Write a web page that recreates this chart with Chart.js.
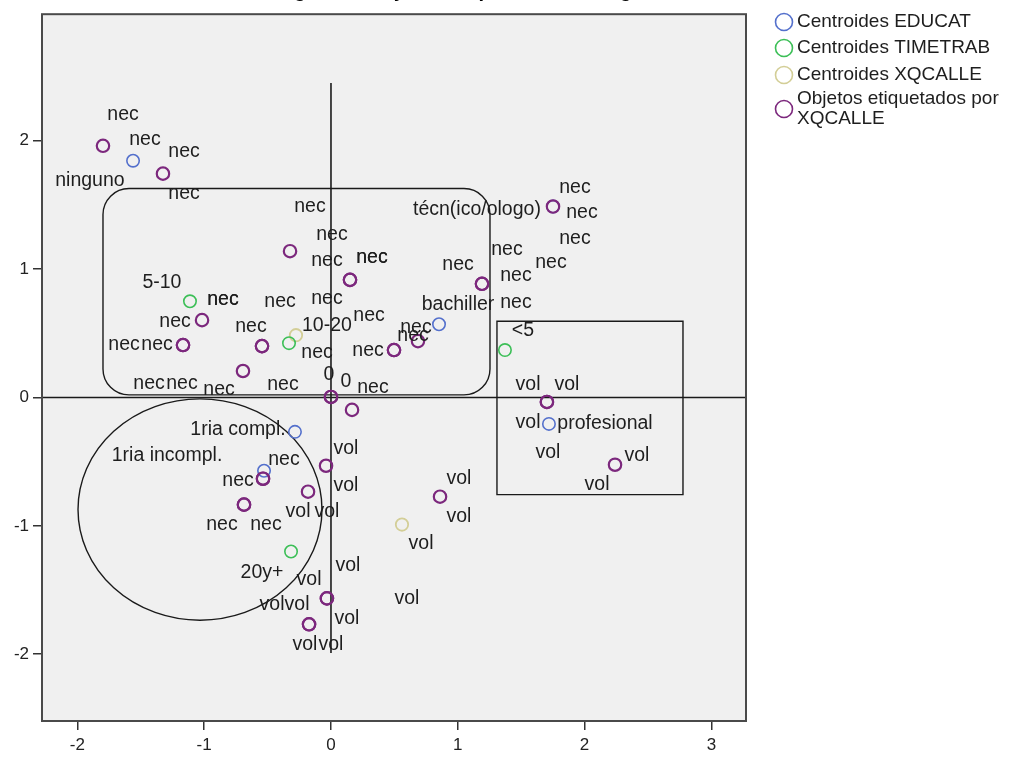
<!DOCTYPE html>
<html>
<head>
<meta charset="utf-8">
<script src="https://cdn.jsdelivr.net/npm/chart.js@4.4.1/dist/chart.umd.min.js"></script>
<style>
  html, body { margin: 0; padding: 0; background: #ffffff; }
  #wrap { width: 1014px; height: 761px; position: relative; }
  canvas { display: block; }
</style>
</head>
<body>
<div id="wrap"><canvas id="c" width="1014" height="761"></canvas></div>
<script>
// ---------- data ----------
const xTicks = [-2, -1, 0, 1, 2, 3];
const yTicks = [-2, -1, 0, 1, 2];
const xRange = [-2.279, 3.273];
const yRange = [-2.52, 2.985];

const titleText = 'Diagrama conjunto de puntos de categoría';

const legendLabels = ['Centroides EDUCAT', 'Centroides TIMETRAB', 'Centroides XQCALLE', 'Objetos etiquetados por XQCALLE'];

// Centroides EDUCAT
const educatCats = ['ninguno', 'técn(ico/ologo)', 'bachiller', 'profesional', '1ria compl.', '1ria incompl.'];
const educatX = [-1.561, 1.751, 0.852, 1.719, -0.284, -0.528];
const educatY = [1.844, 1.487, 0.570, -0.206, -0.268, -0.571];

// Centroides TIMETRAB
const timetrabCats = ['5-10', '10-20', '<5', '20y+'];
const timetrabX = [-1.112, -0.331, 1.372, -0.315];
const timetrabY = [0.749, 0.423, 0.369, -1.200];

// Centroides XQCALLE
const xqcalleCats = ['nec', 'vol'];
const xqcalleX = [-0.276, 0.560];
const xqcalleY = [0.485, -0.990];

// Objetos etiquetados por XQCALLE (repeated entries = coincident objects)
const objX = [-1.798, -1.325, -0.323, 0.150, 0.150, 1.191, 1.191, 1.751, -1.017, -1.167, -1.167,
              -0.544, -0.544, 0.497, 0.497, 0.686, -0.694, 0.000, 0.000, 0.166, 1.703, 1.703,
              2.240, 0.860, -0.039, -0.181, -0.536, -0.536, -0.686, -0.686, -0.032, -0.032, -0.173, -0.173];
const objY = [1.960, 1.743, 1.139, 0.916, 0.916, 0.885, 0.885, 1.487, 0.602, 0.408, 0.408,
              0.400, 0.400, 0.369, 0.369, 0.439, 0.206, 0.004, 0.004, -0.097, -0.035, -0.035,
              -0.524, -0.773, -0.532, -0.734, -0.633, -0.633, -0.835, -0.835, -1.565, -1.565, -1.767, -1.767];

// point labels as placed in the reference (data units)
const labelTexts = ['nec','nec','nec','ninguno','nec','nec','nec','nec','nec','nec','5-10','nec','nec','nec','nec',
  'nec','nec','nec','10-20','nec','nec','nec','nec','nec','nec','bachiller','nec','nec','nec','nec','0','0','nec',
  'técn(ico/ologo)','nec','nec','nec','nec','nec','nec','nec','nec','<5','vol','vol','vol','profesional','vol','vol','vol',
  '1ria compl.','1ria incompl.','nec','nec','vol','vol','vol','vol','nec','nec','20y+','vol','vol','vol','vol','vol',
  'vol','vol','vol','vol','vol','vol'];
const labelX = [-1.640,-1.467,-1.159,-1.901,-1.159,-0.166,0.008,-0.032,0.323,0.323,-1.333,-0.852,-0.852,-0.402,-0.032,
  -1.230,-0.631,0.300,-0.032,-1.632,-1.372,-0.110,0.670,0.647,0.292,1.002,-1.435,-1.175,-0.883,-0.379,-0.016,0.118,0.331,
  1.151,1.924,1.979,1.924,1.388,1.002,1.459,1.735,1.459,1.514,1.554,1.861,1.554,2.161,1.711,2.413,2.098,
  -0.733,-1.293,-0.371,-0.733,0.118,0.118,-0.260,-0.032,-0.860,-0.513,-0.544,0.134,-0.173,-0.465,-0.268,0.126,
  -0.205,0.000,1.009,1.009,0.710,0.599];
const labelY = [2.201,2.007,1.914,1.689,1.588,1.487,1.269,1.068,1.091,1.091,0.897,0.765,0.765,0.749,0.773,
  0.594,0.555,0.641,0.563,0.408,0.408,0.353,0.547,0.485,0.361,0.726,0.105,0.105,0.058,0.097,0.175,0.120,0.074,
  1.464,1.634,1.440,1.238,1.153,1.036,0.951,1.052,0.741,0.524,0.097,0.097,-0.198,-0.206,-0.431,-0.454,-0.679,
  -0.252,-0.454,-0.485,-0.648,-0.400,-0.687,-0.889,-0.889,-0.990,-0.990,-1.363,-1.308,-1.417,-1.611,-1.611,-1.720,
  -1.929,-1.929,-0.633,-0.928,-1.137,-1.564];

// drawn outlines (data units)
const axisVLine = [2.45, -1.99];               // vertical reference line at x = 0: y from/to
const roundBox = [-1.798, 1.254, 0.02, 1.627]; // xmin, xmax, ymin, ymax
const squareBox = [1.309, 2.776, -0.757, 0.594];
const ellipseC = [-1.033, -0.873, 0.962, 0.862]; // cx, cy, rx, ry

// ---------- styles ----------
const FONT = 'Arial, "Liberation Sans", sans-serif';
const colBlue = '#5470cc';
const colGreen = '#3cbf57';
const colTan = '#d3ce97';
const colPurple = '#7c287d';

function pts(xs, ys) { return xs.map((x, i) => ({ x: x, y: ys[i] })); }

const decorPlugin = {
  id: 'decor',
  beforeDraw(chart) {
    const { ctx, chartArea: a } = chart;
    ctx.save();
    ctx.fillStyle = '#ffffff';
    ctx.fillRect(0, 0, chart.width, chart.height);
    ctx.fillStyle = '#f0f0f0';
    ctx.fillRect(a.left, a.top, a.right - a.left, a.bottom - a.top);
    ctx.restore();
  },
  beforeDatasetsDraw(chart) {
    const { ctx, chartArea: a, scales: { x, y } } = chart;
    ctx.save();
    ctx.strokeStyle = '#1a1a1a';
    ctx.lineWidth = 1.6;
    ctx.beginPath();
    ctx.moveTo(a.left, y.getPixelForValue(0));
    ctx.lineTo(a.right, y.getPixelForValue(0));
    ctx.stroke();
    ctx.beginPath();
    ctx.moveTo(x.getPixelForValue(0), y.getPixelForValue(axisVLine[0]));
    ctx.lineTo(x.getPixelForValue(0), y.getPixelForValue(axisVLine[1]));
    ctx.stroke();
    ctx.lineWidth = 1.4;
    const l = x.getPixelForValue(roundBox[0]), r = x.getPixelForValue(roundBox[1]);
    const b = y.getPixelForValue(roundBox[2]), t = y.getPixelForValue(roundBox[3]);
    ctx.beginPath();
    ctx.roundRect(l, t, r - l, b - t, 26);
    ctx.stroke();
    const l2 = x.getPixelForValue(squareBox[0]), r2 = x.getPixelForValue(squareBox[1]);
    const b2 = y.getPixelForValue(squareBox[2]), t2 = y.getPixelForValue(squareBox[3]);
    ctx.beginPath();
    ctx.rect(l2, t2, r2 - l2, b2 - t2);
    ctx.stroke();
    const cx = x.getPixelForValue(ellipseC[0]), cy = y.getPixelForValue(ellipseC[1]);
    const rx = x.getPixelForValue(ellipseC[0] + ellipseC[2]) - cx;
    const ry = cy - y.getPixelForValue(ellipseC[1] + ellipseC[3]);
    ctx.beginPath();
    ctx.ellipse(cx, cy, rx, ry, 0, 0, Math.PI * 2);
    ctx.stroke();
    ctx.restore();
  },
  afterDatasetsDraw(chart) {
    const { ctx, chartArea: a, scales: { x, y } } = chart;
    ctx.save();
    ctx.font = '19.5px ' + FONT;
    ctx.fillStyle = '#1e1e1e';
    ctx.textAlign = 'center';
    ctx.textBaseline = 'middle';
    labelTexts.forEach((s, i) => {
      ctx.fillText(s, x.getPixelForValue(labelX[i]), y.getPixelForValue(labelY[i]));
    });
    ctx.strokeStyle = '#4a4a4a';
    ctx.lineWidth = 2;
    ctx.strokeRect(a.left, a.top, a.right - a.left, a.bottom - a.top);
    // title, mostly above the visible area as in the reference
    ctx.font = 'bold 20px ' + FONT;
    ctx.fillStyle = '#000';
    ctx.textAlign = 'left';
    ctx.textBaseline = 'alphabetic';
    ctx.fillText(titleText, 263, -3);
    // legend
    const cols = [colBlue, colGreen, colTan, colPurple];
    const rows = [22, 48, 75, 109];
    ctx.font = '19px ' + FONT;
    ctx.fillStyle = '#1e1e1e';
    ctx.textBaseline = 'middle';
    cols.forEach((c, i) => {
      ctx.strokeStyle = c;
      ctx.lineWidth = 1.6;
      ctx.beginPath();
      ctx.arc(784, rows[i], 8.5, 0, Math.PI * 2);
      ctx.stroke();
    });
    ctx.fillText(legendLabels[0], 797, rows[0]);
    ctx.fillText(legendLabels[1], 797, rows[1]);
    ctx.fillText(legendLabels[2], 797, rows[2]);
    ctx.fillText('Objetos etiquetados por', 797, 99);
    ctx.fillText('XQCALLE', 797, 119);
    ctx.restore();
  }
};

function axisCfg(min, max, ticks, isX) {
  return {
    type: 'linear',
    min: min, max: max,
    afterBuildTicks: (s) => { s.ticks = ticks.map(v => ({ value: v })); },
    afterFit: (s) => { if (isX) { s.height = 40; } else { s.width = 42; } },
    grid: { display: true, drawOnChartArea: false, drawTicks: true, tickLength: 9, color: '#333', lineWidth: 1.5 },
    border: { display: false },
    ticks: {
      color: '#222',
      font: { family: FONT, size: 17 },
      padding: isX ? 5 : 4,
      callback: (v) => String(v)
    }
  };
}

new Chart(document.getElementById('c'), {
  type: 'scatter',
  data: {
    datasets: [
      { label: legendLabels[3], data: pts(objX, objY), order: 0,
        borderColor: colPurple, backgroundColor: 'rgba(0,0,0,0)', borderWidth: 2.2, pointRadius: 6.2 },
      { label: legendLabels[0], data: pts(educatX, educatY), order: 1,
        borderColor: colBlue, backgroundColor: 'rgba(0,0,0,0)', borderWidth: 1.6, pointRadius: 6.2 },
      { label: legendLabels[1], data: pts(timetrabX, timetrabY), order: 2,
        borderColor: colGreen, backgroundColor: 'rgba(0,0,0,0)', borderWidth: 1.6, pointRadius: 6.2 },
      { label: legendLabels[2], data: pts(xqcalleX, xqcalleY), order: 3,
        borderColor: colTan, backgroundColor: 'rgba(0,0,0,0)', borderWidth: 1.8, pointRadius: 6.2 }
    ]
  },
  options: {
    responsive: false,
    animation: false,
    devicePixelRatio: 1,
    layout: { padding: { top: 11, right: 268, left: 0, bottom: 0 } },
    plugins: { legend: { display: false }, tooltip: { enabled: false }, title: { display: false } },
    elements: { point: { pointStyle: 'circle', hoverRadius: 6.2 } },
    scales: {
      x: axisCfg(xRange[0], xRange[1], xTicks, true),
      y: axisCfg(yRange[0], yRange[1], yTicks, false)
    }
  },
  plugins: [decorPlugin]
});
</script>
</body>
</html>
